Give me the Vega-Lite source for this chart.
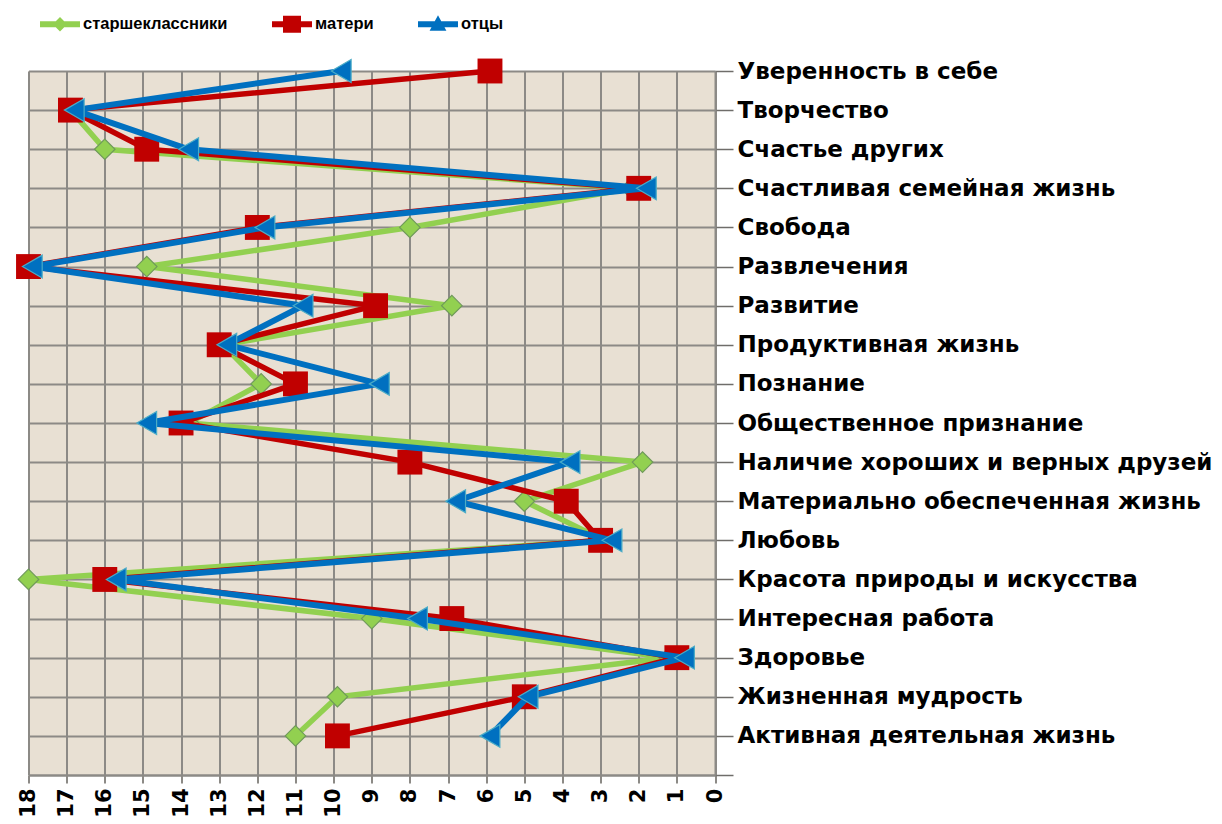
{
  "$schema": "https://vega.github.io/schema/vega-lite/v6.json",
  "width": 686.5,
  "height": 704,
  "autosize": {"type": "none"},
  "padding": {"left": 28.5, "top": 71, "right": 507, "bottom": 49},
  "background": "white",
  "data": {
    "values": [
      {"v": "Творчество", "g": "старшеклассники", "r": 16.9},
      {"v": "Счастье других", "g": "старшеклассники", "r": 16.0},
      {"v": "Счастливая семейная жизнь", "g": "старшеклассники", "r": 2.2},
      {"v": "Свобода", "g": "старшеклассники", "r": 8.0},
      {"v": "Развлечения", "g": "старшеклассники", "r": 14.9},
      {"v": "Развитие", "g": "старшеклассники", "r": 6.9},
      {"v": "Продуктивная жизнь", "g": "старшеклассники", "r": 12.9},
      {"v": "Познание", "g": "старшеклассники", "r": 11.9},
      {"v": "Общественное признание", "g": "старшеклассники", "r": 13.8},
      {"v": "Наличие хороших и верных друзей", "g": "старшеклассники", "r": 1.9},
      {"v": "Материально обеспеченная жизнь", "g": "старшеклассники", "r": 5.0},
      {"v": "Любовь", "g": "старшеклассники", "r": 2.9},
      {"v": "Красота природы и искусства", "g": "старшеклассники", "r": 18.0},
      {"v": "Интересная работа", "g": "старшеклассники", "r": 9.0},
      {"v": "Здоровье", "g": "старшеклассники", "r": 1.2},
      {"v": "Жизненная мудрость", "g": "старшеклассники", "r": 9.9},
      {"v": "Активная деятельная жизнь", "g": "старшеклассники", "r": 11.0},
      {"v": "Уверенность в себе", "g": "матери", "r": 5.9},
      {"v": "Творчество", "g": "матери", "r": 16.9},
      {"v": "Счастье других", "g": "матери", "r": 14.9},
      {"v": "Счастливая семейная жизнь", "g": "матери", "r": 2.0},
      {"v": "Свобода", "g": "матери", "r": 12.0},
      {"v": "Развлечения", "g": "матери", "r": 18.0},
      {"v": "Развитие", "g": "матери", "r": 8.9},
      {"v": "Продуктивная жизнь", "g": "матери", "r": 13.0},
      {"v": "Познание", "g": "матери", "r": 11.0},
      {"v": "Общественное признание", "g": "матери", "r": 14.0},
      {"v": "Наличие хороших и верных друзей", "g": "матери", "r": 8.0},
      {"v": "Материально обеспеченная жизнь", "g": "матери", "r": 3.9},
      {"v": "Любовь", "g": "матери", "r": 3.0},
      {"v": "Красота природы и искусства", "g": "матери", "r": 16.0},
      {"v": "Интересная работа", "g": "матери", "r": 6.9},
      {"v": "Здоровье", "g": "матери", "r": 1.0},
      {"v": "Жизненная мудрость", "g": "матери", "r": 5.0},
      {"v": "Активная деятельная жизнь", "g": "матери", "r": 9.9},
      {"v": "Уверенность в себе", "g": "отцы", "r": 9.8},
      {"v": "Творчество", "g": "отцы", "r": 16.8},
      {"v": "Счастье других", "g": "отцы", "r": 13.8},
      {"v": "Счастливая семейная жизнь", "g": "отцы", "r": 1.8},
      {"v": "Свобода", "g": "отцы", "r": 11.8},
      {"v": "Развлечения", "g": "отцы", "r": 17.9},
      {"v": "Развитие", "g": "отцы", "r": 10.8},
      {"v": "Продуктивная жизнь", "g": "отцы", "r": 12.8},
      {"v": "Познание", "g": "отцы", "r": 8.8},
      {"v": "Общественное признание", "g": "отцы", "r": 14.9},
      {"v": "Наличие хороших и верных друзей", "g": "отцы", "r": 3.8},
      {"v": "Материально обеспеченная жизнь", "g": "отцы", "r": 6.8},
      {"v": "Любовь", "g": "отцы", "r": 2.7},
      {"v": "Красота природы и искусства", "g": "отцы", "r": 15.7},
      {"v": "Интересная работа", "g": "отцы", "r": 7.8},
      {"v": "Здоровье", "g": "отцы", "r": 0.8},
      {"v": "Жизненная мудрость", "g": "отцы", "r": 4.9},
      {"v": "Активная деятельная жизнь", "g": "отцы", "r": 5.9}
    ]
  },
  "encoding": {
    "y": {
      "field": "v",
      "type": "ordinal",
      "scale": {
        "type": "point",
        "padding": 0,
        "domain": ["Уверенность в себе", "Творчество", "Счастье других", "Счастливая семейная жизнь", "Свобода", "Развлечения", "Развитие", "Продуктивная жизнь", "Познание", "Общественное признание", "Наличие хороших и верных друзей", "Материально обеспеченная жизнь", "Любовь", "Красота природы и искусства", "Интересная работа", "Здоровье", "Жизненная мудрость", "Активная деятельная жизнь", " "]
      },
      "axis": {
        "orient": "right",
        "title": null,
        "labelFont": "DejaVu Sans",
        "labelFontWeight": "bold",
        "labelFontSize": 23,
        "labelColor": "black",
        "labelLimit": 800,
        "labelOverlap": false,
        "labelPadding": 4,
        "tickSize": 18,
        "tickColor": "#6f6d6a",
        "tickWidth": 1.5,
        "domainColor": "#8c8a86",
        "domainWidth": 2,
        "grid": true,
        "gridColor": "#8c8a86",
        "gridWidth": 2,
        "gridOpacity": 1
      }
    },
    "x": {
      "field": "r",
      "type": "quantitative",
      "scale": {"domain": [0, 18], "reverse": true, "nice": false},
      "axis": {
        "orient": "bottom",
        "title": null,
        "values": [0, 1, 2, 3, 4, 5, 6, 7, 8, 9, 10, 11, 12, 13, 14, 15, 16, 17, 18],
        "labelAngle": -90,
        "labelFont": "DejaVu Sans",
        "labelFontWeight": "bold",
        "labelFontSize": 21,
        "labelColor": "black",
        "labelPadding": 5,
        "labelFlush": false,
        "labelOverlap": false,
        "tickSize": 8,
        "tickColor": "#8c8a86",
        "tickWidth": 2,
        "domainColor": "#8c8a86",
        "domainWidth": 2,
        "grid": true,
        "gridColor": "#8c8a86",
        "gridWidth": 2,
        "gridOpacity": 1
      }
    },
    "color": {
      "field": "g",
      "type": "nominal",
      "scale": {
        "domain": ["старшеклассники", "матери", "отцы"],
        "range": ["#92d050", "#c00000", "#0070c0"]
      },
      "legend": {
        "orient": "none",
        "legendX": 11.5,
        "legendY": -67,
        "direction": "horizontal",
        "title": null,
        "symbolSize": 1600,
        "symbolStrokeWidth": 0,
        "labelFont": "Liberation Sans",
        "labelFontSize": 16.5,
        "labelFontWeight": "bold",
        "labelColor": "black",
        "labelOffset": 3,
        "columnPadding": 44,
        "padding": 0,
        "encode": {
          "symbols": {
            "update": {
              "shape": {"signal": "datum.value == 'старшеклассники' ? 'M-1,-0.15H1V0.15H-1Z M0,-0.36L0.36,0L0,0.36L-0.36,0Z' : (datum.value == 'матери' ? 'M-1,-0.15H1V0.15H-1Z M-0.45,-0.42H0.45V0.42H-0.45Z' : 'M-1,-0.15H1V0.15H-1Z M0,-0.45L0.42,0.32L-0.42,0.32Z')"},
              "fill": {"scale": "color", "field": "value"},
              "strokeWidth": {"value": 0},
              "opacity": {"value": 1}
            }
          }
        }
      }
    },
    "order": {"value": null}
  },
  "layer": [
    {
      "transform": [{"filter": "datum.g == 'старшеклассники'"}],
      "mark": {
        "type": "line",
        "strokeWidth": 5.5,
        "point": {"shape": "diamond", "size": 420, "filled": true, "stroke": "#6f9a5a", "strokeWidth": 1.2, "opacity": 1}
      }
    },
    {
      "transform": [{"filter": "datum.g == 'матери'"}],
      "mark": {
        "type": "line",
        "strokeWidth": 5.5,
        "point": {"shape": "square", "size": 620, "filled": true, "opacity": 1}
      }
    },
    {
      "transform": [{"filter": "datum.g == 'отцы'"}],
      "mark": {
        "type": "line",
        "strokeWidth": 6,
        "point": {"shape": "triangle-left", "size": 520, "filled": true, "stroke": "#4bacc6", "strokeWidth": 1.2, "opacity": 1}
      }
    }
  ],
  "config": {
    "view": {"fill": "#e8e0d3", "stroke": null}
  }
}
